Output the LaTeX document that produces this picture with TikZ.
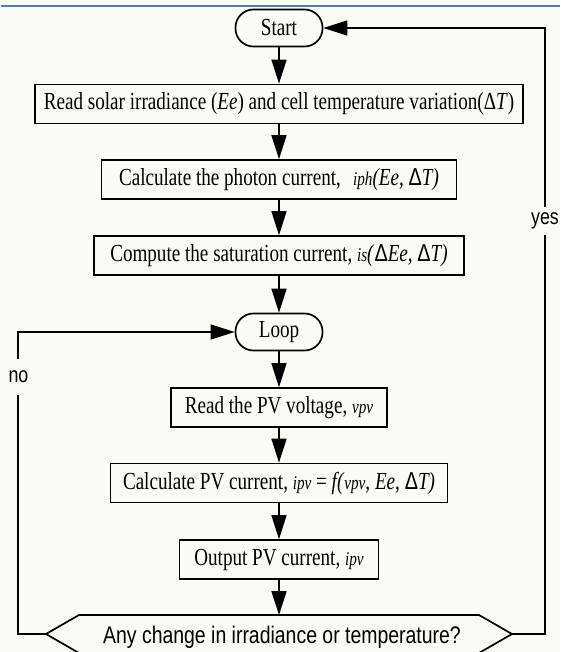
\documentclass[tikz,border=0pt]{standalone}
\usepackage{fontspec}
\setmainfont[FakeStretch=0.78]{Liberation Serif}
\setsansfont[FakeStretch=0.81]{Liberation Sans}
\usetikzlibrary{arrows.meta,calc}
\definecolor{bg}{RGB}{251,251,245}
\definecolor{topblue}{RGB}{74,123,196}
\newcommand{\smit}[1]{{\fontsize{19.5}{20}\selectfont\itshape #1}}
\newcommand{\sD}{{\sffamily Δ}}
\begin{document}
\begin{tikzpicture}[x=1pt,y=1pt,
  lw/.style={line width=1.7pt},
  box/.style={draw, lw, minimum height=39pt, inner sep=0pt,
    font=\fontsize{24.5}{26}\selectfont},
  term/.style={draw, lw, rounded corners=18pt, minimum width=87pt,
    minimum height=37pt, inner sep=0pt, font=\fontsize{24.5}{26}\selectfont},
  arr/.style={lw, -{Triangle[length=24pt,width=15pt]}},
  lbl/.style={fill=bg, inner sep=0pt, font=\sffamily\fontsize{22}{24}\selectfont}
]
\useasboundingbox (0,0) rectangle (560,-652);
\fill[bg] (0,0) rectangle (560,-652);
\draw[topblue, line width=2.5pt] (1,-6) -- (560,-6);

\node[term] (start) at (279,-28) {Start};
\node[box, minimum width=488pt] (read) at (279,-104)
  {Read solar irradiance (\textit{Ee}) and cell temperature variation(Δ\textit{T})};
\node[box, minimum width=355pt] (photon) at (279,-179.5)
  {Calculate the photon current,\enspace\smit{iph}\textit{(Ee, }\sD\textit{T)}};
\node[box, minimum width=370pt] (comp) at (279,-255.5)
  {Compute the saturation current, \smit{is}\textit{(}\sD\textit{Ee, }\sD\textit{T)}};
\node[term] (loop) at (279,-332) {Loop};
\node[box, minimum width=216pt] (rpv) at (279,-407.5)
  {Read the PV voltage, \smit{vpv}};
\node[box, minimum width=337pt] (cpv) at (279,-483)
  {Calculate PV current, \smit{ipv} = \textit{f(}\smit{vpv}\textit{, Ee, }\sD\textit{T)}};
\node[box, minimum width=199pt] (out) at (279,-559.5)
  {Output PV current, \smit{ipv}};
\node[inner sep=0pt, font=\sffamily\fontsize{24}{26}\selectfont] (dec) at (282,-637)
  {Any change in irradiance or temperature?};
\coordinate (decL) at (46,-634);
\coordinate (decR) at (512,-634);
\coordinate (decT) at (279,-615);
\draw[lw] (decL) -- (79,-615) -- (479,-615) -- (decR) -- (479,-653) -- (79,-653) -- cycle;

\draw[arr] (start.south) -- (start.south |- read.north);
\draw[arr] (read.south) -- (read.south |- photon.north);
\draw[arr] (photon.south) -- (photon.south |- comp.north);
\draw[arr] (comp.south) -- (comp.south |- loop.north);
\draw[arr] (loop.south) -- (loop.south |- rpv.north);
\draw[arr] (rpv.south) -- (rpv.south |- cpv.north);
\draw[arr] (cpv.south) -- (cpv.south |- out.north);
\draw[arr] (out.south) -- (decT);

\draw[arr] (decR) -- (545,-634) -- (545,-28) -- (start.east);
\node[lbl, minimum height=28pt] (yes) at (545,-221) {yes};
\draw[arr] (decL) -- (18,-634) -- (18,-332) -- (loop.west);
\node[lbl, minimum height=36pt] (no) at (18.5,-377) {no};
\end{tikzpicture}
\end{document}
